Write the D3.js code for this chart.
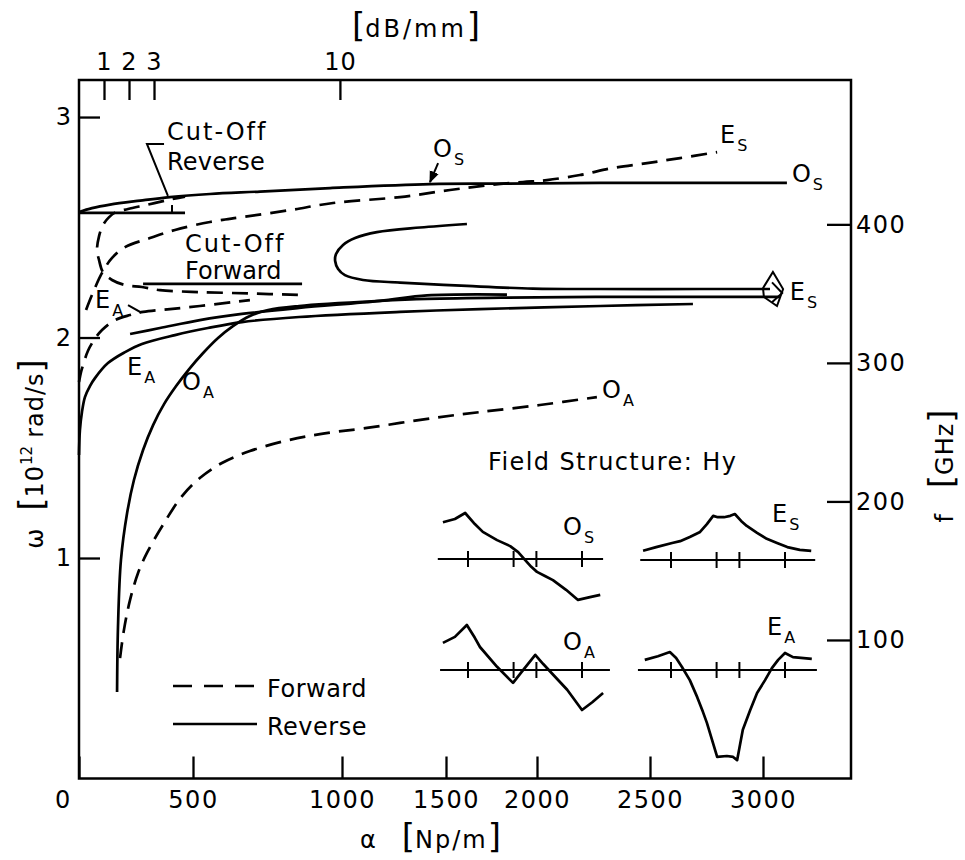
<!DOCTYPE html>
<html>
<head>
<meta charset="utf-8">
<script src="https://cdn.jsdelivr.net/npm/d3@7"></script>
<style>
  html, body { margin: 0; padding: 0; background: #fff; }
  svg { display: block; font-family: "DejaVu Sans", sans-serif; }
  text { fill: #000; }
</style>
</head>
<body>
<svg id="chart" width="965" height="860"></svg>
<script>
// ---------- tick values ----------
const alphaTicks = [0, 500, 1000, 1500, 2000, 2500, 3000];   // α [Np/m]
const omegaTicks = [1, 2, 3];                                // ω [10^12 rad/s]
const freqTicks  = [100, 200, 300, 400];                     // f [GHz]
const dbTicks    = [1, 2, 3, 10];                            // [dB/mm]

// ---------- dispersion curves: [α (Np/m), ω (10^12 rad/s)] ----------
// O_S, reverse (solid)
const osReverse = [[0,2.569],[57,2.587],[136,2.603],[268,2.621],[399,2.637],[557,2.651],
  [725,2.662],[960,2.678],[1423,2.696],[1797,2.698],[2279,2.701],[3106,2.701]];
// O_S, forward (dashed loop that folds back at cut-off)
const osForward = [[852,2.193],[691,2.200],[523,2.206],[355,2.215],[276,2.229],[202,2.238],
  [145,2.261],[105,2.297],[88,2.351],[79,2.397],[88,2.460],[105,2.510],[132,2.546],
  [162,2.569],[215,2.583],[303,2.603],[390,2.624],[465,2.639]];
// E_S, forward (dashed)
const esForward = [[31,2.125],[57,2.193],[101,2.293],[145,2.361],[202,2.410],[311,2.451],
  [421,2.488],[557,2.524],[664,2.546],[826,2.578],[970,2.610],[1279,2.637],[1522,2.669],
  [1742,2.692],[1923,2.705],[2044,2.714],[2190,2.737],[2336,2.769],[2487,2.791],
  [2633,2.814],[2797,2.841]];
// E_S, reverse (solid hairpin)
const esReverse = [[1615,2.515],[1375,2.499],[1168,2.478],[1063,2.451],[1005,2.420],
  [980,2.379],[977,2.347],[987,2.311],[1014,2.283],[1101,2.261],[1279,2.249],[1615,2.234],
  [1978,2.222],[2279,2.220],[2721,2.220],[3031,2.220]];
// E_A, forward (dashed)
const eaForward = [[0,1.798],[9,1.844],[22,1.889],[39,1.939],[66,1.989],[101,2.034],
  [158,2.079],[224,2.102],[281,2.116],[399,2.129],[523,2.143],[634,2.161],[691,2.170]];
// E_A, reverse (solid)
const eaReverse = [[0,1.467],[4,1.580],[13,1.662],[26,1.730],[48,1.780],[70,1.816],
  [127,1.884],[202,1.934],[276,1.971],[421,2.011],[550,2.043],[664,2.070],[856,2.093],
  [1279,2.116],[1687,2.129],[2279,2.143],[2690,2.152]];
// O_A, reverse (solid)
const oaReverse = [[167,0.392],[171,0.687],[184,0.991],[211,1.204],[241,1.354],[281,1.490],
  [325,1.603],[373,1.698],[426,1.780],[483,1.857],[534,1.930],[584,1.998],[634,2.052],
  [691,2.098],[752,2.125],[856,2.143],[1183,2.166],[1409,2.175],[1835,2.181],[2279,2.184],
  [2721,2.184],[3075,2.184]];
// second reverse branch joining the O_A bundle
const upperReverse = [[224,2.016],[355,2.043],[523,2.079],[664,2.107],[856,2.134],
  [1183,2.166],[1409,2.191],[1835,2.195]];
// O_A, forward (dashed)
const oaForward = [[180,0.546],[197,0.673],[224,0.810],[259,0.932],[298,1.023],[368,1.150],
  [452,1.281],[523,1.363],[597,1.431],[691,1.485],[809,1.531],[926,1.562],[1120,1.590],
  [1438,1.635],[1687,1.662],[2013,1.694],[2265,1.730]];
// cut-off markers
const cutOffReverseLine = [[0,2.565],[465,2.565]];
const cutOffForwardLine = [[281,2.243],[866,2.243]];

// ---------- field structure Hy across the guide (z normalised, Hy normalised) ----------
const profileZ_OS  = [-1.44,-1.23,-1.05,-0.88,-0.74,-0.49,-0.26,-0.12,0.00,0.11,0.21,0.35,0.49,0.72,0.93,1.14,1.32];
const profileHy_OS = [0.80,0.87,1.00,0.76,0.59,0.41,0.28,0.15,-0.02,-0.17,-0.28,-0.37,-0.46,-0.67,-0.89,-0.83,-0.78];
const profileZ_OA  = [-1.44,-1.23,-1.02,-0.88,-0.79,-0.49,-0.21,-0.02,0.18,0.32,0.47,0.74,1.00,1.18,1.37];
const profileHy_OA = [0.59,0.72,0.98,0.70,0.50,0.07,-0.28,0.02,0.33,0.13,-0.07,-0.43,-0.87,-0.70,-0.50];
const profileZ_ES  = [-1.49,-1.26,-0.98,-0.84,-0.67,-0.49,-0.37,-0.26,-0.18,-0.07,0.04,0.12,0.23,0.33,0.51,0.68,0.86,1.04,1.26,1.46];
const profileHy_ES = [0.20,0.28,0.37,0.41,0.50,0.61,0.78,0.96,0.93,0.93,0.96,1.00,0.85,0.74,0.59,0.46,0.37,0.28,0.22,0.20];
const profileZ_EA  = [-1.46,-1.23,-1.02,-0.91,-0.81,-0.67,-0.54,-0.44,-0.37,-0.28,-0.19,-0.02,0.09,0.16,0.21,0.26,0.39,0.51,0.65,0.77,0.88,1.00,1.14,1.47];
const profileHy_EA = [0.22,0.30,0.39,0.26,0.07,-0.22,-0.59,-0.91,-1.15,-1.52,-1.89,-1.87,-1.89,-1.96,-1.63,-1.30,-0.87,-0.50,-0.22,0.04,0.22,0.37,0.28,0.24];
const layerBounds = [-1, -0.2, 0.2, 1];

// ---------- scales ----------
const svg = d3.select("#chart");
const pLeft = 79, pRight = 851, pTop = 80, pBottom = 778.5;

// the α ruler is unevenly spaced, so it is mapped piecewise
const x = d3.scaleLinear()
  .domain([0, 500, 1000, 1500, 2000, 2500, 3000, 3390])
  .range([pLeft, 193, 342, 446, 537, 650, 763, pRight]);
const omegaMax = 3.168;
const y = d3.scaleLinear().domain([0, omegaMax]).range([pBottom, pTop]);
// f = ω / 2π
const yF = d3.scaleLinear().domain([0, omegaMax * 1000 / (2 * Math.PI)]).range([pBottom, pTop]);
// dB/mm ruler along the top edge
const xDb = d3.scaleLinear().domain([0, 3, 10]).range([0, 329, 993].map(x));

const FS = 24;
const intFmt = d3.format("d");

// ---------- frame ----------
svg.append("rect")
  .attr("x", pLeft).attr("y", pTop)
  .attr("width", pRight - pLeft).attr("height", pBottom - pTop)
  .attr("fill", "none").attr("stroke", "#000").attr("stroke-width", 2.5);

function styleAxis(g, ls) {
  g.select(".domain").remove();
  g.selectAll(".tick line").attr("stroke", "#000").attr("stroke-width", 2.3);
  g.selectAll(".tick text")
    .attr("font-family", "DejaVu Sans, sans-serif")
    .attr("font-size", FS).attr("fill", "#000")
    .attr("letter-spacing", ls);
}

// bottom α axis
const gx = svg.append("g").attr("transform", `translate(0,${pBottom})`)
  .call(d3.axisBottom(x).tickValues(alphaTicks).tickFormat(intFmt)
    .tickSizeInner(-22).tickSizeOuter(0).tickPadding(12));
styleAxis(gx, 1.5);
gx.selectAll(".tick").filter(d => d === 0).select("text").attr("dx", -16);

// left ω axis
const gy = svg.append("g").attr("transform", `translate(${pLeft},0)`)
  .call(d3.axisLeft(y).tickValues(omegaTicks).tickFormat(intFmt)
    .tickSizeInner(-21).tickSizeOuter(0).tickPadding(8));
styleAxis(gy, 0);

// right f axis
const gf = svg.append("g").attr("transform", `translate(${pRight},0)`)
  .call(d3.axisRight(yF).tickValues(freqTicks).tickFormat(intFmt)
    .tickSizeInner(-24).tickSizeOuter(0).tickPadding(5));
styleAxis(gf, 1.5);

// top dB/mm axis
const gt = svg.append("g").attr("transform", `translate(0,${pTop})`)
  .call(d3.axisTop(xDb).tickValues(dbTicks).tickFormat(intFmt)
    .tickSizeInner(-20).tickSizeOuter(0).tickPadding(10));
styleAxis(gt, 1);

// ---------- axis titles ----------
const tTop = svg.append("text").attr("x", 416).attr("y", 37)
  .attr("text-anchor", "middle").attr("font-size", FS);
tTop.append("tspan").attr("font-size", 34).text("[");
tTop.append("tspan").attr("letter-spacing", 3).text("dB/mm");
tTop.append("tspan").attr("font-size", 34).text("]");

const tBot = svg.append("text").attr("x", 360).attr("y", 848).attr("font-size", FS);
tBot.append("tspan").text("α");
tBot.append("tspan").attr("dx", 26).attr("font-size", 34).text("[");
tBot.append("tspan").attr("letter-spacing", 2).text("Np/m");
tBot.append("tspan").attr("font-size", 34).text("]");

const tLeft = svg.append("text").attr("transform", "translate(43,454) rotate(-90)")
  .attr("text-anchor", "middle").attr("font-size", FS);
tLeft.append("tspan").text("ω");
tLeft.append("tspan").attr("dx", 18).attr("font-size", 34).text("[");
tLeft.append("tspan").attr("letter-spacing", 1).text("10");
tLeft.append("tspan").attr("font-size", 15).attr("dy", -11).text("12");
tLeft.append("tspan").attr("dy", 11).attr("dx", 8).attr("letter-spacing", 1).text("rad/s");
tLeft.append("tspan").attr("font-size", 34).text("]");

const tRight = svg.append("text").attr("transform", "translate(953,466) rotate(-90)")
  .attr("text-anchor", "middle").attr("font-size", FS);
tRight.append("tspan").text("f");
tRight.append("tspan").attr("dx", 26).attr("font-size", 34).text("[");
tRight.append("tspan").attr("letter-spacing", 1).text("GHz");
tRight.append("tspan").attr("font-size", 34).text("]");

// ---------- curves ----------
const line = d3.line().x(d => x(d[0])).y(d => y(d[1])).curve(d3.curveCatmullRom.alpha(0.5));
const DASH = "16,9";
const curves = [
  { pts: osReverse, dashed: false },
  { pts: osForward, dashed: true },
  { pts: esForward, dashed: true },
  { pts: esReverse, dashed: false },
  { pts: eaForward, dashed: true },
  { pts: eaReverse, dashed: false },
  { pts: oaReverse, dashed: false },
  { pts: upperReverse, dashed: false },
  { pts: oaForward, dashed: true },
  { pts: cutOffReverseLine, dashed: false },
  { pts: cutOffForwardLine, dashed: false }
];
svg.append("g").selectAll("path").data(curves).join("path")
  .attr("d", d => line(d.pts))
  .attr("fill", "none").attr("stroke", "#000")
  .attr("stroke-width", 2.7)
  .attr("stroke-linecap", "butt")
  .attr("stroke-dasharray", d => d.dashed ? DASH : null);

// ---------- annotations ----------
const plain = d3.line().x(d => x(d[0])).y(d => y(d[1]));
const ann = svg.append("g").attr("fill", "none").attr("stroke", "#000").attr("stroke-width", 2);
// cut-off reverse bracket and marker
ann.append("path").attr("d", plain([[373,2.878],[298,2.878],[390,2.642]]));
ann.append("path").attr("d", plain([[408,2.601],[408,2.565]]));
// E_A leader
ann.append("path").attr("d", plain([[215,2.147],[268,2.116],[290,2.116]]));
// O_S leader with arrowhead
svg.append("defs").append("marker")
  .attr("id", "arrow").attr("viewBox", "0 0 10 10").attr("refX", 9).attr("refY", 5)
  .attr("markerWidth", 6).attr("markerHeight", 6).attr("orient", "auto")
  .append("path").attr("d", "M0,1 L10,5 L0,9 z").attr("fill", "#000");
ann.append("path").attr("d", plain([[1462,2.791],[1423,2.705]])).attr("marker-end", "url(#arrow)");
// arrow tip enclosing the converging E_S branches
ann.append("path").attr("d", plain([[3004,2.184],[3000,2.224],[3044,2.297],[3089,2.220],[3062,2.143],[3004,2.184]]));
ann.append("path").attr("d", plain([[3040,2.250],[3085,2.202],[3040,2.160]]));

// ---------- text labels ----------
function modeLabel(a, w, main, sub) {
  const t = svg.append("text").attr("x", x(a)).attr("y", y(w)).attr("font-size", FS);
  t.append("tspan").text(main);
  t.append("tspan").attr("font-size", 16).attr("dy", 8).attr("dx", 2).text(sub);
}
modeLabel(1438, 2.819, "O", "S");
modeLabel(2810, 2.882, "E", "S");
modeLabel(3128, 2.705, "O", "S");
modeLabel(3119, 2.170, "E", "S");
modeLabel(70, 2.134, "E", "A");
modeLabel(211, 1.830, "E", "A");
modeLabel(452, 1.762, "O", "A");
modeLabel(2288, 1.726, "O", "A");

function textAt(a, w, str, ls) {
  svg.append("text").attr("x", x(a)).attr("y", y(w)).attr("font-size", FS)
    .attr("letter-spacing", ls).text(str);
}
textAt(386, 2.896, "Cut-Off", 2);
textAt(386, 2.760, "Reverse", 0.2);
textAt(465, 2.388, "Cut-Off", 2);
textAt(465, 2.265, "Forward", 0);
textAt(1731, 1.399, "Field Structure: Hy", 1.4);

// ---------- legend ----------
const lg = svg.append("g");
lg.append("line").attr("x1", 173).attr("x2", 255).attr("y1", 686).attr("y2", 686)
  .attr("stroke", "#000").attr("stroke-width", 2.7).attr("stroke-dasharray", "19,12");
lg.append("text").attr("x", 267).attr("y", 697).attr("font-size", FS).attr("letter-spacing", 0.5).text("Forward");
lg.append("line").attr("x1", 173).attr("x2", 257).attr("y1", 724).attr("y2", 724)
  .attr("stroke", "#000").attr("stroke-width", 2.7);
lg.append("text").attr("x", 267).attr("y", 735).attr("font-size", FS).attr("letter-spacing", 0.5).text("Reverse");

// ---------- field-structure insets ----------
const insets = [
  { cx: 525, cy: 559, z0: -1.53, z1: 1.37, zs: profileZ_OS, hs: profileHy_OS, main: "O", sub: "S", lx: 38, ly: -24 },
  { cx: 525, cy: 670, z0: -1.49, z1: 1.49, zs: profileZ_OA, hs: profileHy_OA, main: "O", sub: "A", lx: 38, ly: -20 },
  { cx: 728, cy: 560, z0: -1.54, z1: 1.53, zs: profileZ_ES, hs: profileHy_ES, main: "E", sub: "S", lx: 44, ly: -38 },
  { cx: 728, cy: 670, z0: -1.58, z1: 1.56, zs: profileZ_EA, hs: profileHy_EA, main: "E", sub: "A", lx: 39, ly: -35 }
];
insets.forEach(ins => {
  const zx = d3.scaleLinear().domain([0, 1]).range([ins.cx, ins.cx + 57]);
  const hy = d3.scaleLinear().domain([0, 1]).range([ins.cy, ins.cy - 46]);
  const g = svg.append("g");
  g.append("line").attr("x1", zx(ins.z0)).attr("x2", zx(ins.z1))
    .attr("y1", ins.cy).attr("y2", ins.cy).attr("stroke", "#000").attr("stroke-width", 2.2);
  g.selectAll("line.tk").data(layerBounds).join("line").attr("class", "tk")
    .attr("x1", d => zx(d)).attr("x2", d => zx(d))
    .attr("y1", ins.cy - 8).attr("y2", ins.cy + 8)
    .attr("stroke", "#000").attr("stroke-width", 2);
  const pts = ins.zs.map((z, i) => [z, ins.hs[i]]);
  g.append("path")
    .attr("d", d3.line().x(d => zx(d[0])).y(d => hy(d[1])).curve(d3.curveLinear)(pts))
    .attr("fill", "none").attr("stroke", "#000").attr("stroke-width", 2.7)
    .attr("stroke-linejoin", "round");
  const t = g.append("text").attr("x", ins.cx + ins.lx).attr("y", ins.cy + ins.ly).attr("font-size", FS);
  t.append("tspan").text(ins.main);
  t.append("tspan").attr("font-size", 16).attr("dy", 8).attr("dx", 2).text(ins.sub);
});
</script>
</body>
</html>
